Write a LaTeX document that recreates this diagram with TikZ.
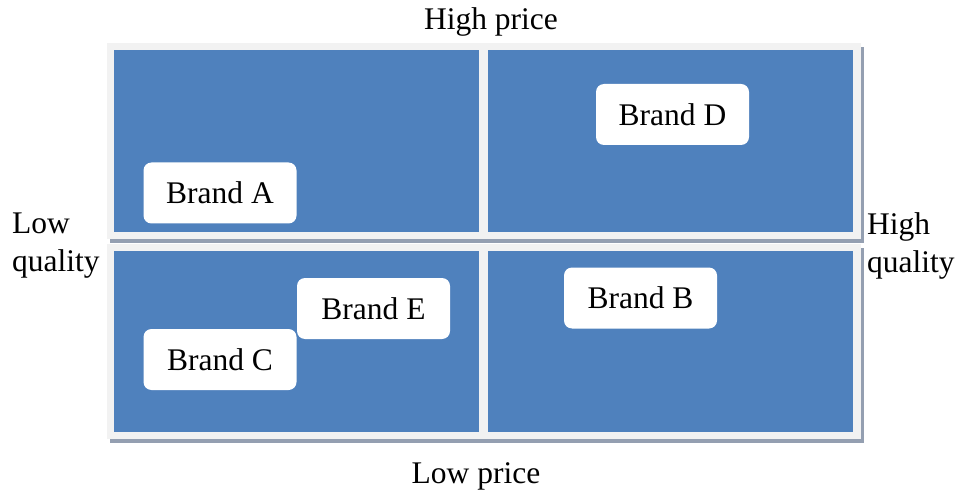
\documentclass[tikz,border=0pt]{standalone}
\usepackage{fontspec}
\setmainfont{Liberation Serif}
\definecolor{quadblue}{HTML}{4F81BD}
\definecolor{quadrim}{HTML}{F2F2F2}
\definecolor{quadshadow}{HTML}{949FB1}
\tikzset{
  quadshade/.style={fill=quadshadow, draw=none},
  quadframe/.style={fill=quadrim, draw=none},
  quadfill/.style={fill=quadblue, draw=none},
  brandbox/.style={fill=white, draw=none, rounded corners=8pt,
    minimum width=153pt, minimum height=61pt, inner sep=0pt,
    font=\fontsize{31.5}{36}\selectfont},
  axislabel/.style={font=\fontsize{31.5}{38}\selectfont, inner sep=0pt}
}
\begin{document}
\begin{tikzpicture}[x=1pt,y=-1pt]
  \useasboundingbox (0,0) rectangle (960,494);
  % drop shadows of the four quadrants
  \foreach \xa/\ya/\xb/\yb in {107/43/484/239, 481/43/861/239, 107/244/484/439, 481/244/861/439}
    \fill[quadshade] (\xa+3,\ya+4) rectangle (\xb+3,\yb+4);
  % quadrants: light rim with blue interior
  \foreach \xa/\ya/\xb/\yb/\ia/\ib in {107/43/484/239/114/479, 481/43/861/239/488/853,
                                       107/244/484/439/114/479, 481/244/861/439/488/853}{
    \fill[quadframe] (\xa,\ya) rectangle (\xb,\yb);
    \fill[quadfill] (\ia,\ya+7) rectangle (\ib,\yb-7);
  }
  % brand markers
  \node[brandbox] (brandA) at (220,193) {Brand A};
  \node[brandbox] (brandD) at (672.5,114.5) {Brand D};
  \node[brandbox] (brandE) at (373.5,308.5) {Brand E};
  \node[brandbox] (brandC) at (220,359.5) {Brand C};
  \node[brandbox] (brandB) at (640.5,298) {Brand B};
  % axis labels
  \node[axislabel] (highprice) at (491,22) {High price};
  \node[axislabel] (lowprice) at (476,476) {Low price};
  \node[axislabel, anchor=west, align=left] (lowq) at (12,246) {Low\\quality};
  \node[axislabel, anchor=west, align=left] (highq) at (867,246) {High\\quality};
\end{tikzpicture}
\end{document}
